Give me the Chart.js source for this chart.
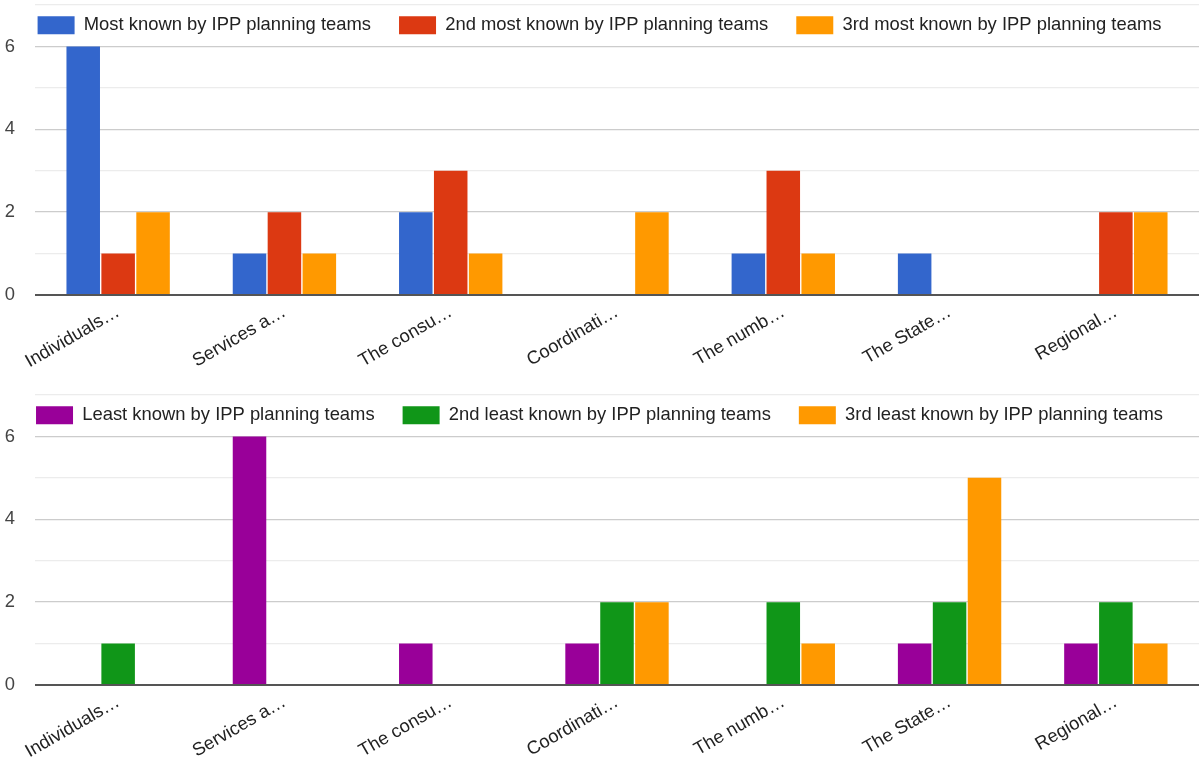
<!DOCTYPE html>
<html>
<head>
<meta charset="utf-8">
<script src="https://cdn.jsdelivr.net/npm/chart.js@4"></script>
<style>
  html, body { margin: 0; padding: 0; background: #fff; overflow: hidden; }
  .box { position: absolute; left: 0; width: 1199px; height: 390px; }
</style>
</head>
<body>
<div class="box" style="top:0"><canvas id="top_chart"></canvas></div>
<div class="box" style="top:390px"><canvas id="bottom_chart"></canvas></div>
<script>
const categories = [
    'Individuals…',
    'Services a…',
    'The consu…',
    'Coordinati…',
    'The numb…',
    'The State…',
    'Regional…',
  ];

const y_tick_labels = [0, 2, 4, 6];

const most_known = [6, 1, 2, 0, 1, 1, 0];
const second_most_known = [1, 2, 3, 0, 3, 0, 2];
const third_most_known = [2, 1, 1, 2, 1, 0, 2];

const least_known = [0, 6, 1, 1, 0, 1, 1];
const second_least_known = [1, 0, 0, 2, 2, 2, 2];
const third_least_known = [0, 0, 0, 2, 1, 5, 1];

const FONT = '"Liberation Sans", Arial, sans-serif';
const LEGEND_PADDING = 28;

function bar(label, color, data) {
  return {
    label: label,
    backgroundColor: color,
    borderWidth: 0,
    data: data,
    categoryPercentage: 0.63,
    barPercentage: 0.96,
  };
}

// legend sits inside the plot, between the 7 and 6 gridlines
const legend_inside = {
  id: 'legend_inside',
  afterInit(chart) {
    const fit = chart.legend.fit;
    chart.legend.fit = function () {
      this.maxWidth = 5000;
      fit.call(this);
      this.height = 5;
    };
  },
  beforeDraw(chart) {
    chart.legend.top = 16 - LEGEND_PADDING;
    chart.legend.bottom = 45;
  }
};

function make_options() {
  return {
    responsive: true,
    maintainAspectRatio: false,
    animation: false,
    layout: { padding: 0 },
    plugins: {
      legend: {
        position: 'top',
        labels: {
          boxWidth: 37,
          boxHeight: 18,
          padding: LEGEND_PADDING,
          color: '#222',
          font: { family: FONT, size: 18.4 },
        },
      },
      tooltip: { enabled: false },
    },
    scales: {
      x: {
        grid: { display: false, drawTicks: false },
        border: { display: false },
        ticks: {
          color: '#222',
          font: { family: FONT, size: 18.4 },
          minRotation: 30,
          maxRotation: 30,
          autoSkip: false,
          padding: 6,
        },
        afterFit(scale) { scale.height = 95; },
      },
      y: {
        min: 0,
        max: 7,
        border: { display: false },
        grid: {
          drawTicks: false,
          color: (ctx) => {
            const v = ctx.tick.value;
            if (v === 0) return '#555';
            return v % 2 ? '#ececec' : '#cccccc';
          },
          lineWidth: (ctx) => (ctx.tick.value === 0 ? 2 : 1.3),
        },
        ticks: {
          stepSize: 1,
          padding: 20,
          color: '#444',
          font: { family: FONT, size: 18.4 },
          callback: (v) => (y_tick_labels.includes(v) ? v : ''),
        },
        afterFit(scale) {
          scale.width = 35;
          scale.paddingTop = 0;
          scale.paddingBottom = 0;
        },
      },
    },
  };
}

const data_top_chart = {
    labels: categories,
    datasets: [
      bar('Most known by IPP planning teams', '#3366cc', most_known),
      bar('2nd most known by IPP planning teams', '#dc3912', second_most_known),
      bar('3rd most known by IPP planning teams', '#ff9900', third_most_known),
    ]
  };

const data_bottom_chart = {
    labels: categories,
    datasets: [
      bar('Least known by IPP planning teams', '#990099', least_known),
      bar('2nd least known by IPP planning teams', '#109618', second_least_known),
      bar('3rd least known by IPP planning teams', '#ff9900', third_least_known),
    ]
  };

const top_chart = new Chart(
    document.getElementById('top_chart'),
    { type: 'bar', data: data_top_chart, options: make_options(), plugins: [legend_inside] }
  );

const bottom_chart = new Chart(
    document.getElementById('bottom_chart'),
    { type: 'bar', data: data_bottom_chart, options: make_options(), plugins: [legend_inside] }
  );
</script>
</body>
</html>
